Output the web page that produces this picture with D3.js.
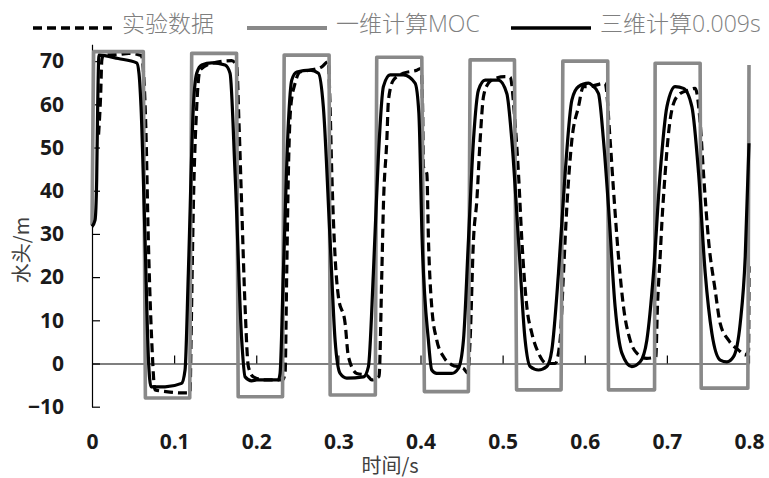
<!DOCTYPE html>
<html>
<head>
<meta charset="utf-8">
<script src="https://cdn.jsdelivr.net/npm/d3@7"></script>
<style>
  body { margin: 0; background: #fff; }
  svg { display: block; }
  .tick text { font-family: "Open Sans", sans-serif; font-weight: 700; font-size: 21px; fill: #1a1a1a; }
  .axis-title { font-family: "Noto Sans CJK SC", "Open Sans", sans-serif; font-size: 20px; fill: #404040; }
  .legend text { font-family: "Open Sans", "Noto Sans CJK SC", sans-serif; font-size: 23px; fill: #7f7f7f; font-weight: 300; }
</style>
</head>
<body>
<svg id="chart" width="769" height="478"></svg>
<script>
// 实验数据 (time s, head m)
const expData = [
  [0.008, 53], [0.0105, 62], [0.012, 70.3], [0.014, 71.4], [0.03, 71.5], [0.045, 71.8], [0.06, 71.3],
  [0.0625, 68], [0.0655, 55], [0.0686, 28.6], [0.0727, 5.4], [0.0767, -6.1], [0.09, -6.5], [0.1092, -6.8],
  [0.1194, -6.8], [0.1206, 5.4], [0.1234, 36.3], [0.1275, 59.4], [0.1315, 67.9], [0.1458, 69.5], [0.17, 70.1],
  [0.1761, 69], [0.179, 55.6], [0.1823, 36.3], [0.1864, 13.1], [0.1904, -0.7], [0.1965, -3.1], [0.21, -3.8],
  [0.232, -3.8], [0.2351, -2.3], [0.2371, 20.9], [0.2391, 44], [0.242, 59.4], [0.2473, 64.9], [0.2533, 67.5],
  [0.2655, 67.9], [0.2798, 68.7], [0.2878, 69.9], [0.2895, 62], [0.292, 44], [0.296, 24.7], [0.3, 15.5],
  [0.3082, 9.3], [0.3122, 1.6], [0.3224, -2.3], [0.3346, -2.7], [0.3407, -3.8], [0.3495, -3], [0.3529, 20.9],
  [0.3548, 36.3], [0.359, 51.7], [0.361, 61], [0.367, 65.6], [0.3792, 67.2], [0.3955, 67.9], [0.4005, 68.3],
  [0.4025, 60], [0.4035, 45.6], [0.4077, 44], [0.4097, 28.6], [0.4137, 13.1], [0.4198, 5.4], [0.4279, 1.6],
  [0.4381, -0.3], [0.4523, -1.1], [0.4575, -2.2], [0.4604, 5.4], [0.4645, 28.6], [0.4686, 37.8], [0.4726, 51.7],
  [0.4767, 61.8], [0.4827, 64.9], [0.4909, 66], [0.503, 66.4], [0.5091, 66.3], [0.5152, 55.6], [0.5193, 44],
  [0.5234, 28.6], [0.5295, 13.1], [0.5356, 7], [0.5437, 2.4], [0.5538, 0], [0.564, 0], [0.57, 5.4],
  [0.5741, 20.9], [0.5782, 36.3], [0.5843, 51.7], [0.5923, 59.4], [0.5984, 64.1], [0.6045, 64.1], [0.6248, 64.9],
  [0.6309, 51.7], [0.635, 40.2], [0.6411, 24.7], [0.6472, 13.1], [0.6553, 5.4], [0.6634, 2.4], [0.6756, 1.2],
  [0.6865, 1.5], [0.6885, 13.1], [0.6918, 24.7], [0.6939, 32.5], [0.6979, 44], [0.702, 53.3], [0.7081, 60.2],
  [0.7162, 62.5], [0.7264, 63.3], [0.7345, 63.7], [0.7406, 55.6], [0.7446, 44], [0.7507, 28.6], [0.7588, 17],
  [0.7649, 9.3], [0.7751, 5.4], [0.7873, 3.1], [0.7954, 2], [0.7995, 3], [0.8, 22.5]
]

// 一维计算MOC
const mocData = [
  [0, 32], [0.002, 72.2], [0.0625, 72.2], [0.065, -8.0], [0.119, -8.0], [0.1214, 71.8], [0.176, 71.8],
  [0.178, -7.7], [0.232, -7.7], [0.234, 71.4], [0.2887, 71.4], [0.29, -7.3], [0.345, -7.3], [0.3467, 70.9],
  [0.4016, 70.9], [0.4047, -6.5], [0.4583, -6.5], [0.4604, 70.3], [0.5144, 70.3], [0.517, -6.1],
  [0.5712, -6.1], [0.5733, 70.0], [0.628, 70.0], [0.6289, -6.1], [0.685, -6.1], [0.6857, 69.5],
  [0.7405, 69.5], [0.7418, -5.7], [0.7986, -5.7], [0.8, 69.1]
]

// 三维计算0.009s
const cfdData = [
  [0, 31.7], [0.0037, 33.2], [0.0057, 42.5], [0.0069, 59.4], [0.0085, 71.4], [0.032, 70.6], [0.0544, 69.6],
  [0.0572, 67.2], [0.0597, 59.4], [0.0646, 28.6], [0.0686, 1.6], [0.0719, -5.4], [0.0889, -5.4], [0.109, -4.6],
  [0.1133, -1.5], [0.1173, 20.9], [0.1234, 59.4], [0.1275, 67.2], [0.1336, 69.1], [0.1458, 69.6], [0.162, 69.1],
  [0.1681, 67.2], [0.1742, 44], [0.1823, 5.4], [0.1864, -3.1], [0.1945, -4.0], [0.2006, -3.8], [0.2269, -3.8],
  [0.229, -2.3], [0.233, 20.9], [0.2391, 55.6], [0.2432, 65.6], [0.2493, 67.5], [0.2655, 67.9], [0.2757, 67.2],
  [0.2817, 59.4], [0.2899, 28.6], [0.296, 5.4], [0.3021, -2.3], [0.3102, -3.4], [0.3305, -3.1], [0.3366, -0.7],
  [0.3426, 20.9], [0.3487, 47.9], [0.3548, 64.1], [0.363, 66.8], [0.3792, 66.8], [0.3934, 64.9], [0.398, 58],
  [0.402, 28.6], [0.4096, 5.4], [0.4137, -1.5], [0.4198, -2.3], [0.4381, -2.3], [0.4462, -1.1], [0.4523, 5.4],
  [0.4584, 28.6], [0.4645, 51.7], [0.4706, 63.3], [0.4787, 65.6], [0.4949, 65.6], [0.5051, 62.5], [0.5112, 51.7],
  [0.5193, 28.6], [0.5274, 5.4], [0.5335, -0.7], [0.5437, -1.5], [0.5538, -0.7], [0.5599, 3.1], [0.568, 20.9],
  [0.5761, 44], [0.5843, 61], [0.5923, 64.1], [0.6045, 64.9], [0.6086, 64.5], [0.6167, 62.5], [0.6228, 51.7],
  [0.6289, 36.3], [0.637, 13.1], [0.6452, 2.4], [0.6573, -0.7], [0.6675, 0.4], [0.6756, 5.4], [0.6837, 20.9],
  [0.6918, 44], [0.7, 59.4], [0.7101, 64.1], [0.7203, 63.7], [0.7305, 59.4], [0.7386, 44], [0.7467, 20.9],
  [0.7548, 7], [0.765, 0.8], [0.7731, 0.4], [0.7812, 1.6], [0.7893, 9.3], [0.7954, 24.7], [0.8, 51]
]

const xTicks = [0, 0.1, 0.2, 0.3, 0.4, 0.5, 0.6, 0.7, 0.8]
const xTickLabels = ['0', '0.1', '0.2', '0.3', '0.4', '0.5', '0.6', '0.7', '0.8']
const yTicks = [-10, 0, 10, 20, 30, 40, 50, 60, 70]
const seriesNames = ['实验数据', '一维计算MOC', '三维计算0.009s']

const plotLeft = 92
    , plotRight = 749
    , plotTop = 44.3
    , plotBottom = 406.7
    , x = d3.scaleLinear().domain([0, 0.8]).range([plotLeft, plotRight])
    , y = d3.scaleLinear().domain([-10, 73.9]).range([plotBottom, plotTop])
    , svg = d3.select('#chart')

svg.append('rect').attr('width', 769).attr('height', 478).attr('fill', '#fff')

// axes
const gy = svg.append('g')
    .attr('transform', `translate(${plotLeft},0)`)
    .call(d3.axisLeft(y).tickValues(yTicks).tickSizeInner(-8).tickSizeOuter(0).tickPadding(28))
gy.attr('font-family', null).attr('font-size', null)

const gx = svg.append('g')
    .attr('transform', `translate(0,${y(0)})`)
    .call(d3.axisBottom(x).tickValues(xTicks).tickFormat((d, i) => xTickLabels[i])
        .tickSizeInner(-8).tickSizeOuter(0).tickPadding(71))
gx.attr('font-family', null).attr('font-size', null)
gx.select('.tick').select('line').remove()

svg.selectAll('.domain, .tick line').attr('stroke', '#000').attr('stroke-width', 1.2)

// series
const line = d3.line().x(d => x(d[0])).y(d => y(d[1]))
const smooth = d3.line().x(d => x(d[0])).y(d => y(d[1])).curve(d3.curveMonotoneX)

const styles = [
  { stroke: '#000', width: 3.2, dash: '9,5' },
  { stroke: '#898989', width: 3.6, dash: null },
  { stroke: '#000', width: 3.2, dash: null }
]

svg.append('path').datum(expData)
    .attr('d', smooth).attr('fill', 'none')
    .attr('stroke', styles[0].stroke).attr('stroke-width', styles[0].width)
    .attr('stroke-dasharray', styles[0].dash)
svg.append('path').datum(mocData)
    .attr('d', line).attr('fill', 'none')
    .attr('stroke', styles[1].stroke).attr('stroke-width', styles[1].width)
    .attr('stroke-linejoin', 'round')
svg.append('path').datum(cfdData)
    .attr('d', smooth).attr('fill', 'none')
    .attr('stroke', styles[2].stroke).attr('stroke-width', styles[2].width)

// legend
const legendX = [33, 247, 511]
const legend = svg.append('g').attr('class', 'legend')
seriesNames.forEach((name, i) => {
  legend.append('line')
      .attr('x1', legendX[i]).attr('x2', legendX[i] + 80)
      .attr('y1', 28).attr('y2', 28)
      .attr('stroke', styles[i].stroke).attr('stroke-width', styles[i].width + 0.4)
      .attr('stroke-dasharray', styles[i].dash)
  legend.append('text')
      .attr('x', legendX[i] + 89).attr('y', 32)
      .text(name)
})

// axis titles
svg.append('text').attr('class', 'axis-title')
    .attr('x', 390).attr('y', 473).attr('text-anchor', 'middle')
    .text('时间/s')
svg.append('text').attr('class', 'axis-title')
    .attr('transform', 'translate(29,250) rotate(-90)').attr('text-anchor', 'middle')
    .text('水头/m')
</script>
</body>
</html>
